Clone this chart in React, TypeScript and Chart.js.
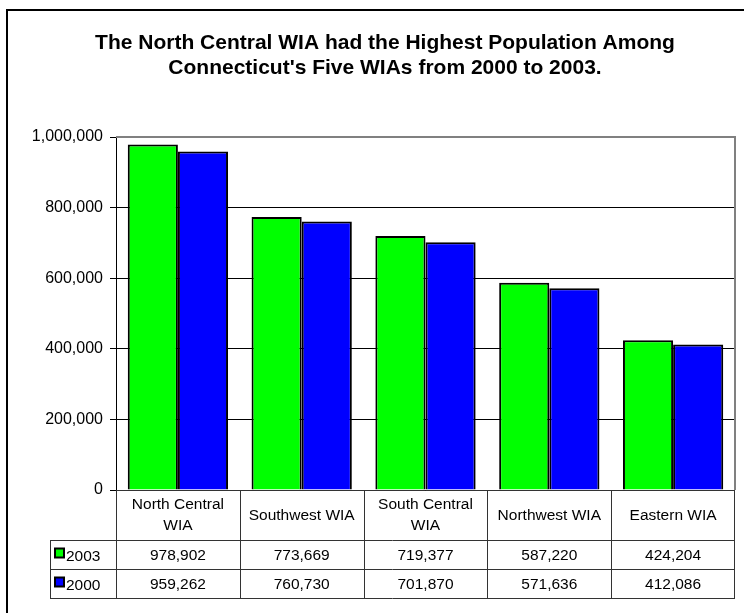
import React, { useEffect, useRef } from "react";
import { Chart, registerables } from "chart.js";

Chart.register(...registerables);

const titleLines = [
  "The North Central WIA had the Highest Population Among",
  "Connecticut's Five WIAs from 2000 to 2003.",
];
const categories = [
  "North Central WIA",
  "Southwest WIA",
  "South Central WIA",
  "Northwest WIA",
  "Eastern WIA",
];
const seriesNames = ["2003", "2000"];
const values2003 = [978902, 773669, 719377, 587220, 424204];
const values2000 = [959262, 760730, 701870, 571636, 412086];
const seriesColors = ["#00FF00", "#0000FF"];
const yTicks = [0, 200000, 400000, 600000, 800000, 1000000];

const FONT = "'Liberation Sans', Arial, sans-serif";
const TABLE_FONT_SIZE = 15.5;

function fmt(v: number) {
  return v.toLocaleString("en-US");
}

function wrap(ctx: CanvasRenderingContext2D, text: string, maxW: number) {
  const words = text.split(" ");
  const lines: string[] = [];
  let cur = "";
  for (const w of words) {
    const t = cur ? cur + " " + w : w;
    if (ctx.measureText(t).width > maxW && cur) {
      lines.push(cur);
      cur = w;
    } else cur = t;
  }
  if (cur) lines.push(cur);
  return lines;
}

const decorPlugin = {
  id: "decor",
  afterDraw(chart: any) {
    const ctx: CanvasRenderingContext2D = chart.ctx;
    const area = chart.chartArea;
    const xs = chart.scales.x;
    ctx.save();
    // outer border
    ctx.strokeStyle = "#000";
    ctx.lineWidth = 2;
    ctx.strokeRect(7, 10, 900, 800);

    // title
    ctx.fillStyle = "#000";
    ctx.font = `bold 21px ${FONT}`;
    ctx.textAlign = "center";
    ctx.textBaseline = "middle";
    titleLines.forEach((l, i) => ctx.fillText(l, 385, 43 + i * 25));

    // plot area border (top & right gray)
    ctx.strokeStyle = "#808080";
    ctx.lineWidth = 2;
    ctx.beginPath();
    ctx.moveTo(area.left, area.top);
    ctx.lineTo(area.right, area.top);
    ctx.lineTo(area.right, area.bottom);
    ctx.stroke();

    // data table
    const n = categories.length;
    const cw = (area.right - area.left) / n;
    const top = area.bottom;
    const hBottom = top + 50;
    const rowH = 29;
    const tableBottom = hBottom + rowH * 2;
    const legendLeft = 50;
    ctx.strokeStyle = "#333";
    ctx.lineWidth = 1;
    ctx.beginPath();
    ctx.moveTo(area.left, Math.round(top) + 0.5);
    ctx.lineTo(area.right, Math.round(top) + 0.5);
    [hBottom, hBottom + rowH, tableBottom].forEach((y) => {
      ctx.moveTo(legendLeft, Math.round(y) + 0.5);
      ctx.lineTo(area.right, Math.round(y) + 0.5);
    });
    for (let i = 0; i <= n; i++) {
      const x = Math.round(xs.getPixelForValue(i) - cw / 2) + 0.5;
      const xx = i === n ? Math.round(area.right) - 0.5 : x;
      ctx.moveTo(xx, top);
      ctx.lineTo(xx, tableBottom + 1);
    }
    ctx.moveTo(legendLeft + 0.5, hBottom);
    ctx.lineTo(legendLeft + 0.5, tableBottom + 1);
    ctx.stroke();

    ctx.font = `${TABLE_FONT_SIZE}px ${FONT}`;
    ctx.fillStyle = "#000";
    ctx.textAlign = "center";
    ctx.textBaseline = "middle";
    for (let i = 0; i < n; i++) {
      const cx = xs.getPixelForValue(i);
      const lines = wrap(ctx, categories[i], cw - 10);
      const lh = 21;
      const y0 = (top + hBottom) / 2 - ((lines.length - 1) * lh) / 2 + 0.5;
      lines.forEach((l, k) => ctx.fillText(l, cx, y0 + k * lh));
      ctx.fillText(fmt(values2003[i]), cx, hBottom + rowH / 2 + 1);
      ctx.fillText(fmt(values2000[i]), cx, hBottom + rowH + rowH / 2 + 1);
    }
    // legend keys
    seriesNames.forEach((name, k) => {
      const cy = hBottom + rowH * k + rowH / 2;
      ctx.fillStyle = seriesColors[k];
      ctx.fillRect(55, cy - 6, 9, 9);
      ctx.strokeStyle = "#000";
      ctx.lineWidth = 2;
      ctx.strokeRect(55, cy - 6, 9, 9);
      ctx.fillStyle = "#000";
      ctx.textAlign = "left";
      ctx.fillText(name, 66, cy + 2);
    });
    ctx.restore();
  },
};

export default function App() {
  const ref = useRef<HTMLCanvasElement>(null);
  useEffect(() => {
    if (!ref.current) return;
    const chart = new Chart(ref.current, {
      type: "bar",
      data: {
        labels: categories,
        datasets: [
          {
            label: seriesNames[0],
            data: values2003,
            backgroundColor: seriesColors[0],
            borderColor: "#000",
            borderWidth: 2,
            categoryPercentage: 0.81,
            barPercentage: 1,
          },
          {
            label: seriesNames[1],
            data: values2000,
            backgroundColor: seriesColors[1],
            borderColor: "#000",
            borderWidth: 2,
            categoryPercentage: 0.81,
            barPercentage: 1,
          },
        ],
      },
      options: {
        responsive: false,
        animation: false,
        devicePixelRatio: 1,
        layout: { padding: { left: 0, top: 137, right: 9, bottom: 123 } },
        plugins: {
          legend: { display: false },
          title: { display: false },
          tooltip: { enabled: false },
        },
        scales: {
          x: { display: false },
          y: {
            min: 0,
            max: 1000000,
            afterFit: (s: any) => {
              s.width = 116;
            },
            afterBuildTicks: (s: any) => {
              s.ticks = yTicks.map((v) => ({ value: v }));
            },
            ticks: {
              color: "#000",
              padding: 7,
              font: { family: FONT, size: 16 },
              callback: (v: any) => fmt(Number(v)),
            },
            grid: {
              color: (c: any) => (c.tick && c.tick.value === 1000000 ? "#808080" : "#000"),
              lineWidth: 1,
              tickLength: 6,
              tickColor: "#000",
            },
            border: { display: true, color: "#000", width: 1 },
          },
        },
      },
      plugins: [decorPlugin],
    });
    return () => chart.destroy();
  }, []);
  return (
    <div style={{ position: "absolute", left: 0, top: 0, width: 744, height: 613, background: "#fff" }}>
      <canvas ref={ref} width={744} height={613} style={{ display: "block" }} />
    </div>
  );
}
